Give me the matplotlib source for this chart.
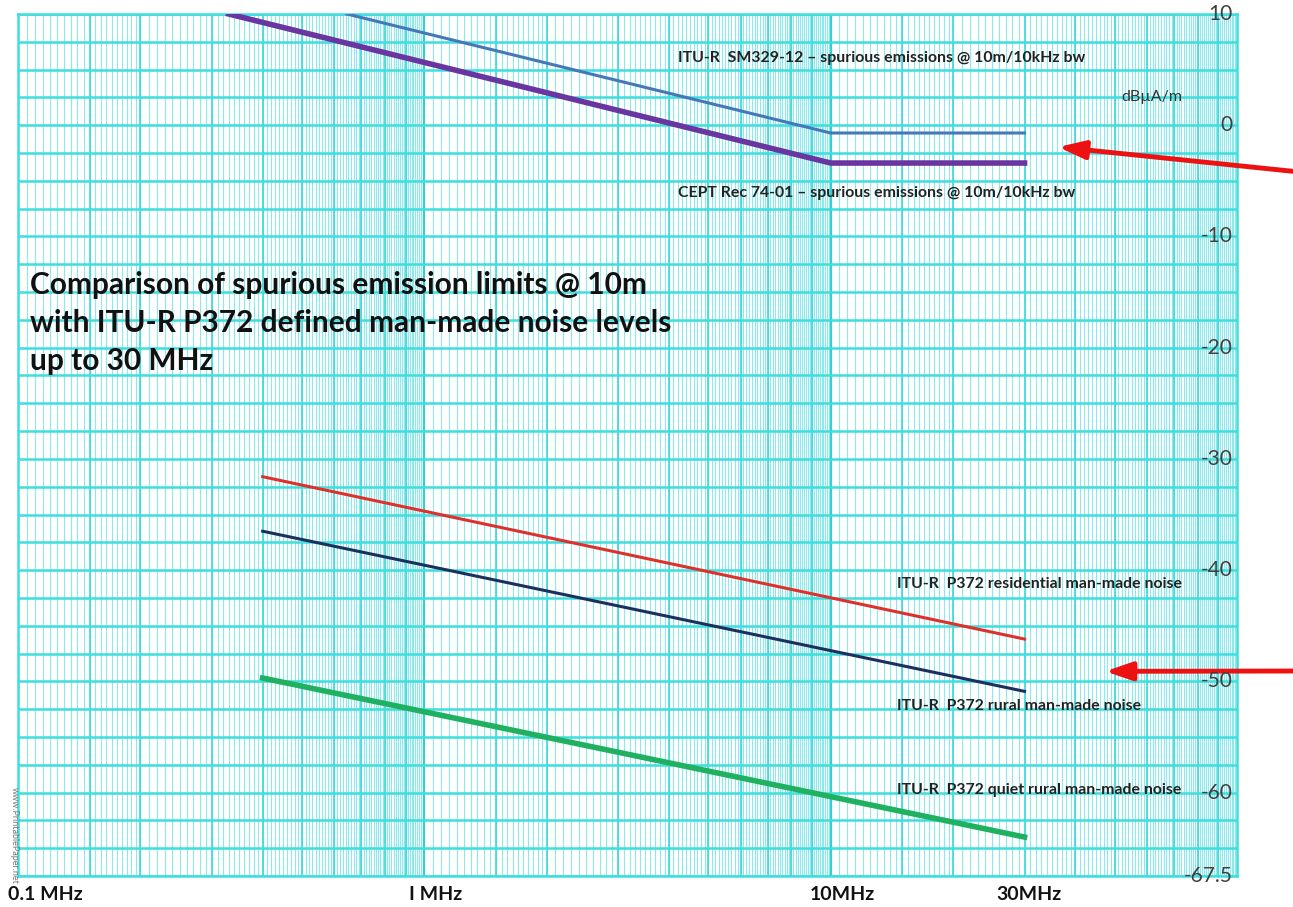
import numpy as np
import matplotlib
matplotlib.use("Agg")
import matplotlib.pyplot as plt
import matplotlib.transforms as mtransforms

plt.rcParams['font.family'] = ['Lato', 'DejaVu Sans']

# ─── Data (frequency in MHz, level in dBµA/m) ─────────────────────────────────
sm329_freq = [0.645, 10, 30]
sm329_level = [10, -0.7, -0.7]

cept_freq = [0.33, 10, 30]
cept_level = [10, -3.4, -3.4]

residential_freq = [0.4, 30]
residential_level = [-31.6, -46.2]

rural_freq = [0.4, 30]
rural_level = [-36.5, -50.9]

quiet_freq = [0.4, 30]
quiet_level = [-49.7, -64.0]

x_tick_freqs = [0.1, 1, 10, 30]
x_tick_labels = ['0.1 MHz', 'I MHz', '10MHz', '30MHz']
y_tick_values = [10, 0, -10, -20, -30, -40, -50, -60, -67.5]

# ─── Figure / log paper ───────────────────────────────────────────────────────
fig = plt.figure(figsize=(12.93, 9.07), dpi=100)
ax = fig.add_axes([18 / 1293, 1 - 876 / 907, 1219 / 1293, 862 / 907])
ax.set_xscale('log')
ax.set_xlim(0.1, 100)
ax.set_ylim(-67.5, 10)

xt = ax.get_xaxis_transform()
for decade in [0.1, 1, 10]:
    fine = np.concatenate([np.arange(1.0, 2.0, 0.05), np.arange(2.0, 10.0, 0.1)])
    ax.vlines(fine * decade, 0, 1, transform=xt, color='#8ee9ec', lw=0.8, zorder=0)
    sub = np.array([1.5, 2, 3, 4, 5, 6, 7, 8, 9])
    ax.vlines(sub * decade, 0, 1, transform=xt, color='#3ad9d9', lw=1.2, zorder=0.5)
    ax.axvline(decade, color='#2ad4d4', lw=1.5, zorder=0.6)

for yv in np.arange(-67.5, 10.01, 2.5):
    ax.axhline(yv, color='#3edede', lw=1.8, zorder=0.7)

for spine in ax.spines.values():
    spine.set_color('#3edede')
    spine.set_linewidth(1.8)

# ─── Limit and noise lines ────────────────────────────────────────────────────
ax.plot(sm329_freq, sm329_level, color='#4677b8', lw=2.2, zorder=3)
ax.plot(cept_freq, cept_level, color='#6a35a0', lw=4.0, zorder=3)
ax.plot(residential_freq, residential_level, color='#e0302c', lw=2.2, zorder=3)
ax.plot(rural_freq, rural_level, color='#1c2f5e', lw=2.2, zorder=3)
ax.plot(quiet_freq, quiet_level, color='#1fb060', lw=4.0, zorder=3)

# ─── Axis labels ──────────────────────────────────────────────────────────────
ax.set_xticks(x_tick_freqs)
ax.set_xticklabels(x_tick_labels, fontsize=14, fontweight='bold', color='#111111')
ax.tick_params(axis='x', length=0, pad=7)
ax.xaxis.set_minor_locator(matplotlib.ticker.NullLocator())
for lbl, dx in zip(ax.get_xticklabels(), [27, 11, 12, 4]):
    lbl.set_transform(lbl.get_transform() +
                      mtransforms.ScaledTranslation(dx / 100, 0, fig.dpi_scale_trans))

ax.set_yticks([])
yt = ax.get_yaxis_transform()
for v in y_tick_values:
    lab = f'{v:g}'
    ax.text(0.9965, v, lab, transform=yt, ha='right', va='center',
            fontsize=15, color='#404040', zorder=4)
ax.text(0.955, 2.5, 'dBµA/m', transform=yt, ha='right', va='center',
        fontsize=11.5, color='#333333')

# ─── Annotations ──────────────────────────────────────────────────────────────
label_kw = dict(transform=ax.transAxes, fontsize=11.4, fontweight='bold',
                color='#222222', va='center', ha='left', zorder=4)
ax.text(0.5414, 0.949, 'ITU-R  SM329-12 – spurious emissions @ 10m/10kHz bw', **label_kw)
ax.text(0.5414, 0.792, 'CEPT Rec 74-01 – spurious emissions @ 10m/10kHz bw', **label_kw)
ax.text(0.721, 0.339, 'ITU-R  P372 residential man-made noise', **label_kw)
ax.text(0.721, 0.197, 'ITU-R  P372 rural man-made noise', **label_kw)
ax.text(0.721, 0.0998, 'ITU-R  P372 quiet rural man-made noise', **label_kw)

fig.text(30 / 1293, 1 - 323 / 907,
         'Comparison of spurious emission limits @ 10m\n'
         'with ITU-R P372 defined man-made noise levels\n'
         'up to 30 MHz',
         fontsize=21.5, fontweight='bold', color='#111111', va='center', ha='left',
         linespacing=1.42)

fig.text(14 / 1293, 1 - 835 / 907, 'www.PrintablePaper.net', rotation=270,
         fontsize=6.5, color='#777777', ha='center', va='center')

arrow_kw = dict(arrowstyle='-|>,head_length=1.6,head_width=0.55', color='#ee1111',
                lw=3.5, shrinkA=0, shrinkB=0)
ax.annotate('', xy=(36.3, -1.96), xycoords='data',
            xytext=(1.005, 1 - 172 / 907), textcoords='figure fraction',
            arrowprops=arrow_kw, annotation_clip=False)
ax.annotate('', xy=(47.4, -49.1), xycoords='data',
            xytext=(1.005, 1 - 671 / 907), textcoords='figure fraction',
            arrowprops=arrow_kw, annotation_clip=False)

fig.savefig('out.png', dpi=100)
